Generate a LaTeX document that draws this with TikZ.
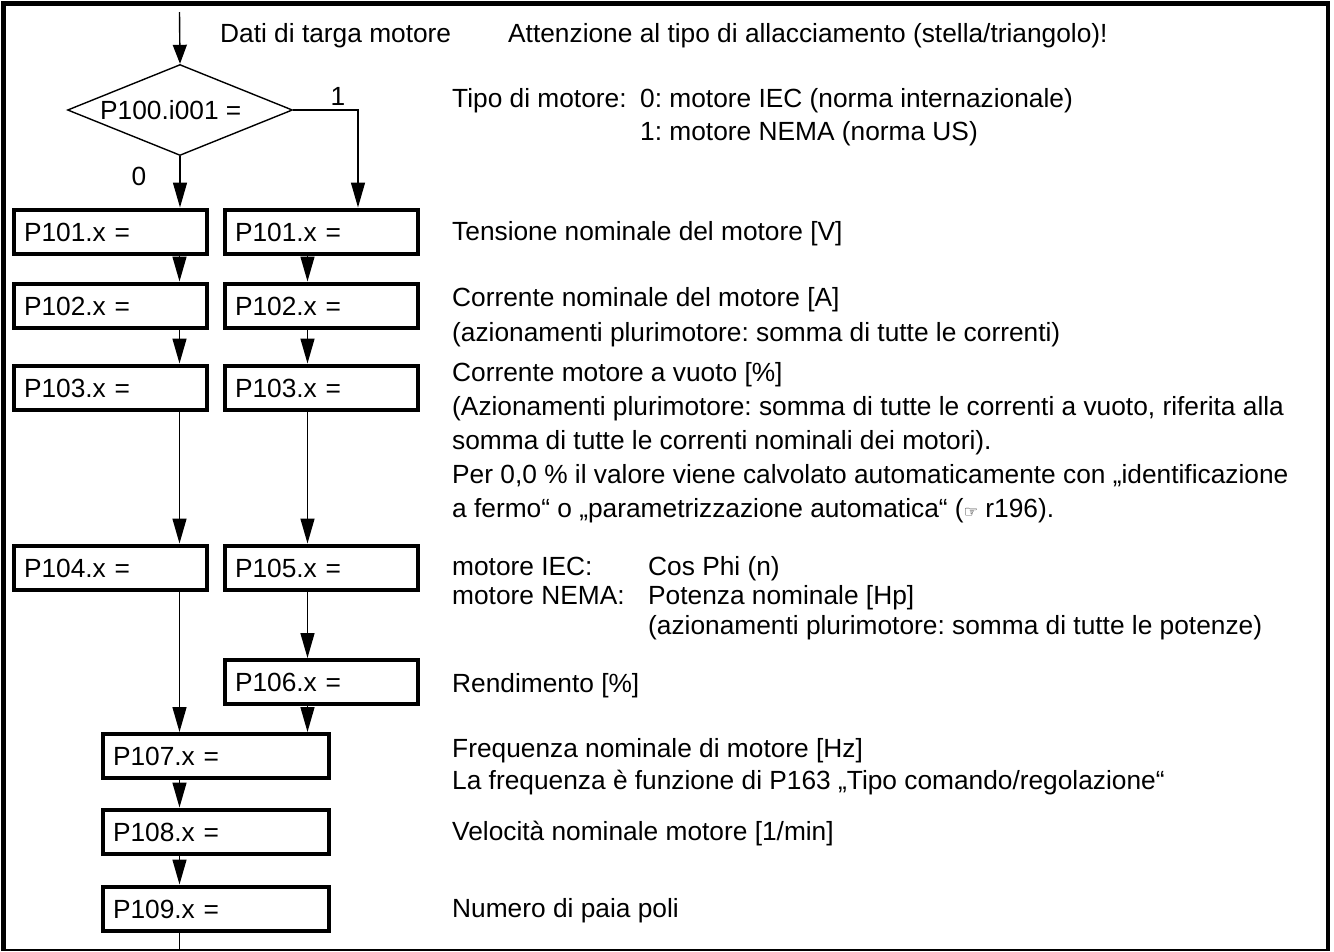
\documentclass[tikz,border=0pt]{standalone}
\usepackage{fontspec}
\setmainfont{Liberation Sans}
\newfontfamily\dejavu{DejaVu Sans}
\usetikzlibrary{arrows.meta,shapes.geometric}
\frenchspacing

\tikzset{
  txt/.style={font=\fontsize{26.3pt}{33pt}\selectfont},
  rtext/.style={txt, anchor=base west, inner sep=0pt},
  pbox/.style={txt, draw, line width=4pt, rectangle, minimum height=44pt,
    inner xsep=10pt, inner ysep=0pt, align=left, text height=19pt, text depth=0pt},
  colbox/.style={pbox, minimum width=193pt, text width=173pt},
  widebox/.style={pbox, minimum width=226pt, text width=206pt},
  conn/.style={line width=1.4pt},
  arr/.style={conn, -{Triangle[length=25pt,width=14pt]}},
  arrshort/.style={conn, -{Triangle[length=19pt,width=14pt]}},
}

\begin{document}
\begin{tikzpicture}[x=1pt, y=-1pt]
\useasboundingbox (0,0) rectangle (1334,951);

% frame
\draw[line width=4.5pt] (3.5,951) -- (3.5,3.5) -- (1328,3.5) -- (1328,951);
\draw[line width=2pt] (3.5,950) -- (1328,950);

% column guides
\coordinate (xL) at (179.5,0);
\coordinate (xR) at (307.5,0);
\coordinate (xB) at (358,0);
\coordinate (top) at (179.5,12);
\coordinate (bot) at (179.5,950);

% decision
\node[diamond, draw, line width=1.4pt, minimum width=225pt, minimum height=91pt,
      inner sep=0pt, aspect=2.47] (dec) at (180,110) {};
\node[rtext] (dectxt) at (100,119.5) {P100.i001 =};
\node[txt, inner sep=0pt] (one) at (338,96) {1};
\node[txt, inner sep=0pt] (zero) at (139,176) {0};

% parameter boxes
\node[colbox] (l1) at (110.5,231.5) {P101.x =};
\node[colbox] (r1) at (321.5,231.5) {P101.x =};
\node[colbox] (l2) at (110.5,305.5) {P102.x =};
\node[colbox] (r2) at (321.5,305.5) {P102.x =};
\node[colbox] (l3) at (110.5,387.5) {P103.x =};
\node[colbox] (r3) at (321.5,387.5) {P103.x =};
\node[colbox] (l4) at (110.5,567.5) {P104.x =};
\node[colbox] (r5) at (321.5,567.5) {P105.x =};
\node[colbox] (r6) at (321.5,682) {P106.x =};
\node[widebox] (p7) at (216,756) {P107.x =};
\node[widebox] (p8) at (216,831.5) {P108.x =};
\node[widebox] (p9) at (216,908.5) {P109.x =};

% connectors
\draw[arrshort] (top) -- (dec.north);
\draw[arr] (dec.south) -- (dec.south |- l1.north);
\draw[arr] (dec.east) -| (xB |- r1.north);
\draw[arr] (l1.south -| xL) -- (l2.north -| xL);
\draw[arr] (l2.south -| xL) -- (l3.north -| xL);
\draw[arr] (l3.south -| xL) -- (l4.north -| xL);
\draw[arr] (l4.south -| xL) -- (p7.north -| xL);
\draw[arr] (r1.south -| xR) -- (r2.north -| xR);
\draw[arr] (r2.south -| xR) -- (r3.north -| xR);
\draw[arr] (r3.south -| xR) -- (r5.north -| xR);
\draw[arr] (r5.south -| xR) -- (r6.north -| xR);
\draw[arr] (r6.south -| xR) -- (p7.north -| xR);
\draw[arr] (p7.south -| xL) -- (p8.north -| xL);
\draw[arr] (p8.south -| xL) -- (p9.north -| xL);
\draw[conn] (p9.south -| xL) -- (bot);

% descriptions
\node[rtext] (t0a) at (220,42) {Dati di targa motore};
\node[rtext] (t0b) at (508,42) {Attenzione al tipo di allacciamento (stella/triangolo)!};
\node[rtext] (t1a) at (452,107) {Tipo di motore:};
\node[rtext] (t1b) at (640,107) {0: motore IEC (norma internazionale)};
\node[rtext] (t1c) at (640,140) {1: motore NEMA (norma US)};
\node[rtext] (t2) at (452,240) {Tensione nominale del motore [V]};
\node[rtext] (t3a) at (452,306) {Corrente nominale del motore [A]};
\node[rtext] (t3b) at (452,341) {(azionamenti plurimotore: somma di tutte le correnti)};
\node[rtext] (t4a) at (452,381) {Corrente motore a vuoto [\%]};
\node[rtext] (t4b) at (452,415) {(Azionamenti plurimotore: somma di tutte le correnti a vuoto, riferita alla};
\node[rtext] (t4c) at (452,449) {somma di tutte le correnti nominali dei motori).};
\node[rtext] (t4d) at (452,483) {Per 0,0 \% il valore viene calvolato automaticamente con „identificazione};
\node[rtext] (t4e) at (452,517) {a fermo“ o „parametrizzazione automatica“ ({\dejavu\fontsize{16pt}{16pt}\selectfont ☞} r196).};
\node[rtext] (t5a) at (452,575) {motore IEC:};
\node[rtext] (t5b) at (648,575) {Cos Phi (n)};
\node[rtext] (t5c) at (452,604) {motore NEMA:};
\node[rtext] (t5d) at (648,604) {Potenza nominale [Hp]};
\node[rtext] (t5e) at (648,634) {(azionamenti plurimotore: somma di tutte le potenze)};
\node[rtext] (t6) at (452,692) {Rendimento [\%]};
\node[rtext] (t7a) at (452,757) {Frequenza nominale di motore [Hz]};
\node[rtext] (t7b) at (452,789) {La frequenza è funzione di P163 „Tipo comando/regolazione“};
\node[rtext] (t8) at (452,840) {Velocità nominale motore [1/min]};
\node[rtext] (t9) at (452,917) {Numero di paia poli};
\end{tikzpicture}
\end{document}
